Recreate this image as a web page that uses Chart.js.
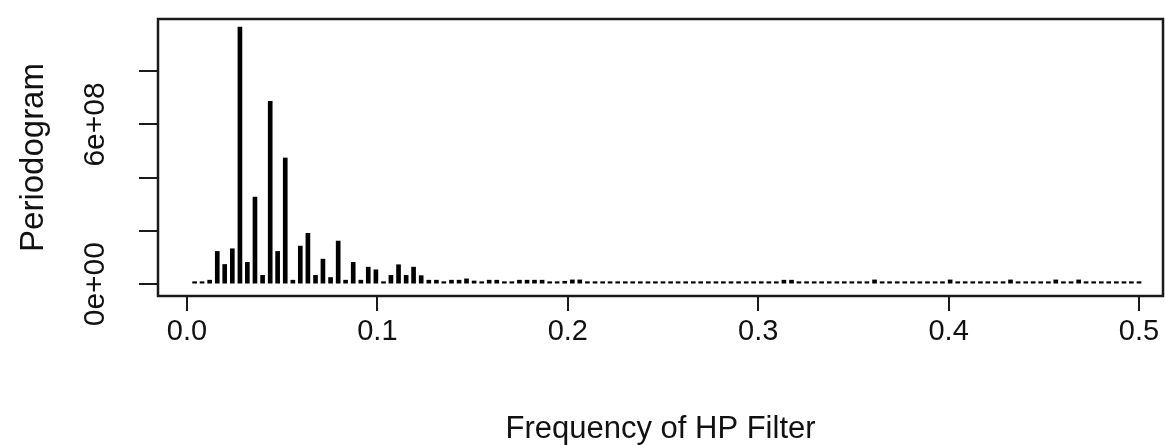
<!DOCTYPE html>
<html>
<head>
<meta charset="utf-8">
<script src="https://cdn.jsdelivr.net/npm/chart.js@4/dist/chart.umd.min.js"></script>
<style>
    html, body { margin: 0; padding: 0; background: #fff; }
    #wrap { width: 1165px; height: 445px; }
</style>
</head>
<body>
<div id="wrap"><canvas id="periodogramChart" width="1165" height="445"></canvas></div>
<script>
// Fourier frequencies (k / 252)
const frequencies = [
    0.0040, 0.0079, 0.0119, 0.0159, 0.0198, 0.0238, 0.0278, 0.0317, 0.0357, 0.0397,
    0.0437, 0.0476, 0.0516, 0.0556, 0.0595, 0.0635, 0.0675, 0.0714, 0.0754, 0.0794,
    0.0833, 0.0873, 0.0913, 0.0952, 0.0992, 0.1032, 0.1071, 0.1111, 0.1151, 0.1190,
    0.1230, 0.1270, 0.1310, 0.1349, 0.1389, 0.1429, 0.1468, 0.1508, 0.1548, 0.1587,
    0.1627, 0.1667, 0.1706, 0.1746, 0.1786, 0.1825, 0.1865, 0.1905, 0.1944, 0.1984,
    0.2024, 0.2063, 0.2103, 0.2143, 0.2183, 0.2222, 0.2262, 0.2302, 0.2341, 0.2381,
    0.2421, 0.2460, 0.2500, 0.2540, 0.2579, 0.2619, 0.2659, 0.2698, 0.2738, 0.2778,
    0.2817, 0.2857, 0.2897, 0.2937, 0.2976, 0.3016, 0.3056, 0.3095, 0.3135, 0.3175,
    0.3214, 0.3254, 0.3294, 0.3333, 0.3373, 0.3413, 0.3452, 0.3492, 0.3532, 0.3571,
    0.3611, 0.3651, 0.3690, 0.3730, 0.3770, 0.3810, 0.3849, 0.3889, 0.3929, 0.3968,
    0.4008, 0.4048, 0.4087, 0.4127, 0.4167, 0.4206, 0.4246, 0.4286, 0.4325, 0.4365,
    0.4405, 0.4444, 0.4484, 0.4524, 0.4563, 0.4603, 0.4643, 0.4683, 0.4722, 0.4762,
    0.4802, 0.4841, 0.4881, 0.4921, 0.4960, 0.5000
];

// periodogram values, in units of 1e8
const periodogram = [
    0.02, 0.02, 0.15, 1.23, 0.74, 1.33, 9.66, 0.82, 3.27, 0.33,
    6.87, 1.23, 4.74, 0.15, 1.43, 1.91, 0.33, 0.94, 0.25, 1.62,
    0.15, 0.82, 0.15, 0.64, 0.54, 0.08, 0.33, 0.73, 0.33, 0.64,
    0.32, 0.15, 0.15, 0.07, 0.15, 0.15, 0.20, 0.12, 0.04, 0.15,
    0.15, 0.03, 0.09, 0.15, 0.15, 0.15, 0.15, 0.03, 0.03, 0.11,
    0.16, 0.16, 0.03, 0.03, 0.03, 0.02, 0.02, 0.02, 0.02, 0.02,
    0.02, 0.02, 0.02, 0.02, 0.02, 0.02, 0.02, 0.02, 0.02, 0.02,
    0.02, 0.02, 0.02, 0.02, 0.02, 0.02, 0.02, 0.02, 0.15, 0.15,
    0.02, 0.02, 0.02, 0.02, 0.02, 0.02, 0.02, 0.02, 0.02, 0.02,
    0.16, 0.02, 0.02, 0.02, 0.02, 0.02, 0.02, 0.02, 0.02, 0.02,
    0.16, 0.02, 0.02, 0.02, 0.02, 0.02, 0.02, 0.02, 0.16, 0.02,
    0.02, 0.02, 0.02, 0.02, 0.16, 0.02, 0.02, 0.16, 0.02, 0.02,
    0.02, 0.02, 0.02, 0.02, 0.02, 0.02
];

const xTickValues = [0.0, 0.1, 0.2, 0.3, 0.4, 0.5];
const xTickLabels = ['0.0', '0.1', '0.2', '0.3', '0.4', '0.5'];
const yTickValues = [0, 2e8, 4e8, 6e8, 8e8];
const yTickLabels = ['0e+00', '', '', '6e+08', ''];

const textFont = 'Liberation Sans, Arial, sans-serif';
const ink = '#111';

// R-style box around the plot region
const plotBox = {
    id: 'plotBox',
    afterDraw(chart) {
        const {ctx, chartArea} = chart;
        ctx.save();
        ctx.strokeStyle = '#1a1a1a';
        ctx.lineWidth = 2.5;
        ctx.strokeRect(chartArea.left, chartArea.top, chartArea.right - chartArea.left, chartArea.bottom - chartArea.top);
        ctx.restore();
    }
};

function buildData() {
    return {
        datasets: [{
            label: 'Periodogram',
            data: frequencies.map((f, i) => ({x: f, y: periodogram[i] * 1e8})),
            backgroundColor: '#000',
            borderWidth: 0,
            barThickness: 4,
            minBarLength: 2.5
        }]
    };
}

function initChart() {
    const ctx = document.getElementById('periodogramChart').getContext('2d');

    return new Chart(ctx, {
        type: 'bar',
        data: buildData(),
        plugins: [plotBox],
        options: {
            responsive: false,
            animation: false,
            layout: {
                padding: {left: 0, right: 2, top: 15, bottom: 0}
            },
            plugins: {
                legend: {display: false},
                tooltip: {enabled: false}
            },
            scales: {
                x: {
                    type: 'linear',
                    offset: false,
                    min: -0.01523,
                    max: 0.5126,
                    afterBuildTicks: scale => {
                        scale.ticks = xTickValues.map(v => ({value: v}));
                    },
                    afterFit: scale => {
                        scale.height = 149;
                    },
                    ticks: {
                        autoSkip: false,
                        maxRotation: 0,
                        minRotation: 0,
                        padding: 4,
                        color: ink,
                        font: {family: textFont, size: 29},
                        callback: (value, index) => xTickLabels[index]
                    },
                    grid: {
                        display: true,
                        offset: false,
                        drawOnChartArea: false,
                        drawTicks: true,
                        tickLength: 15,
                        color: '#1a1a1a',
                        lineWidth: 2
                    },
                    border: {display: false},
                    title: {
                        display: true,
                        text: 'Frequency of HP Filter',
                        color: ink,
                        font: {family: textFont, size: 31},
                        padding: {top: 0, bottom: -3}
                    }
                },
                y: {
                    min: -0.444e8,
                    max: 9.96e8,
                    afterBuildTicks: scale => {
                        scale.ticks = yTickValues.map(v => ({value: v}));
                    },
                    afterFit: scale => {
                        scale.width = 158;
                    },
                    ticks: {
                        autoSkip: false,
                        minRotation: 90,
                        maxRotation: 90,
                        crossAlign: 'center',
                        padding: 1,
                        color: ink,
                        font: {family: textFont, size: 30},
                        callback: (value, index) => yTickLabels[index]
                    },
                    grid: {
                        display: true,
                        drawOnChartArea: false,
                        drawTicks: true,
                        tickLength: 19,
                        color: '#1a1a1a',
                        lineWidth: 2
                    },
                    border: {display: false},
                    title: {
                        display: true,
                        text: 'Periodogram',
                        color: ink,
                        font: {family: textFont, size: 33},
                        padding: {top: 14, bottom: 0}
                    }
                }
            }
        }
    });
}

window.onload = () => {
    initChart();
};
</script>
</body>
</html>
